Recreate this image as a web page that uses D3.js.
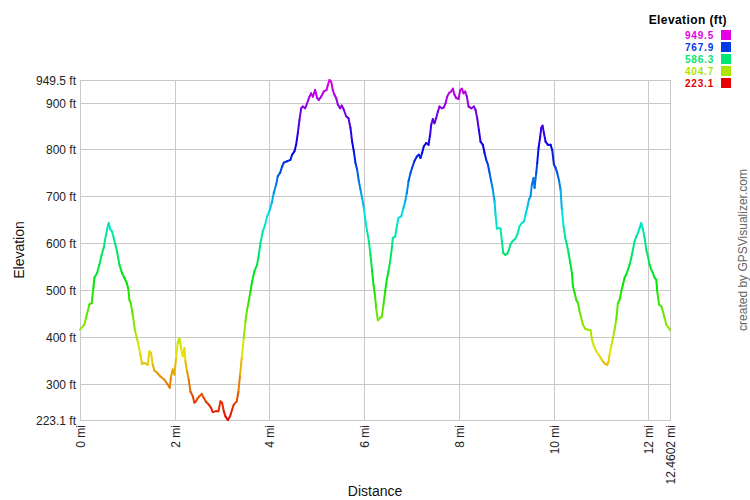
<!DOCTYPE html>
<html><head><meta charset="utf-8">
<script src="https://cdn.jsdelivr.net/npm/d3@7"></script>
<style>body{margin:0;background:#fff} text{font-family:Arial,"Liberation Sans",sans-serif}</style>
</head><body><svg id="c" width="750" height="500"></svg>
<script>
const distance = [0.0,0.092,0.127,0.198,0.247,0.282,0.304,0.36,0.409,0.458,0.50,0.529,0.571,0.606,0.642,0.677,0.712,0.747,0.782,0.832,0.888,0.937,0.987,1.022,1.043,1.078,1.113,1.163,1.219,1.275,1.311,1.36,1.43,1.466,1.501,1.536,1.571,1.628,1.698,1.783,1.853,1.895,1.923,1.959,1.994,2.029,2.064,2.1,2.135,2.17,2.205,2.226,2.261,2.297,2.332,2.381,2.416,2.452,2.487,2.522,2.571,2.614,2.663,2.719,2.768,2.804,2.874,2.924,2.966,3.001,3.036,3.071,3.121,3.17,3.212,3.247,3.311,3.346,3.381,3.416,3.459,3.494,3.529,3.564,3.6,3.635,3.684,3.74,3.776,3.811,3.86,3.909,3.952,4.001,4.05,4.092,4.142,4.177,4.226,4.269,4.304,4.374,4.445,4.48,4.529,4.564,4.6,4.635,4.67,4.705,4.755,4.797,4.846,4.881,4.917,4.966,5.008,5.043,5.093,5.149,5.206,5.234,5.269,5.304,5.339,5.374,5.41,5.445,5.494,5.529,5.572,5.621,5.67,5.712,5.747,5.783,5.818,5.853,5.889,5.924,5.959,5.994,6.03,6.065,6.1,6.135,6.17,6.198,6.227,6.255,6.29,6.339,6.375,6.41,6.445,6.48,6.515,6.55,6.586,6.607,6.656,6.691,6.726,6.783,6.832,6.867,6.902,6.938,6.98,7.015,7.065,7.114,7.156,7.191,7.226,7.262,7.311,7.36,7.395,7.417,7.452,7.487,7.522,7.558,7.593,7.642,7.684,7.72,7.755,7.79,7.839,7.874,7.909,7.945,7.994,8.029,8.065,8.1,8.135,8.17,8.205,8.262,8.318,8.353,8.388,8.424,8.459,8.508,8.543,8.578,8.614,8.649,8.684,8.719,8.755,8.776,8.804,8.839,8.882,8.91,8.938,8.98,9.023,9.058,9.093,9.142,9.191,9.234,9.283,9.332,9.374,9.41,9.445,9.48,9.515,9.543,9.579,9.6,9.635,9.656,9.684,9.72,9.741,9.769,9.797,9.832,9.882,9.938,9.973,10.008,10.044,10.079,10.114,10.149,10.177,10.213,10.248,10.283,10.318,10.353,10.389,10.41,10.445,10.48,10.516,10.551,10.586,10.621,10.67,10.727,10.783,10.811,10.853,10.903,10.952,10.994,11.044,11.093,11.135,11.163,11.184,11.22,11.255,11.29,11.325,11.36,11.396,11.431,11.466,11.501,11.537,11.572,11.607,11.642,11.677,11.713,11.748,11.783,11.818,11.853,11.889,11.924,11.959,11.994,12.029,12.065,12.1,12.135,12.17,12.191,12.227,12.276,12.311,12.346,12.381,12.431,12.4602];
const elevation = [416,427,441,470,473,505,527,537,555,576,591,608,630,644,630,626,612,598,583,555,537,527,516,502,480,470,448,413,391,363,343,345,341,370,366,341,329,324,316,309,299,292,316,331,320,356,388,398,377,359,377,348,327,309,284,274,260,263,270,274,279,270,262,256,249,240,242,242,263,260,242,231,223.1,231,245,256,263,284,320,356,398,434,459,477,498,519,541,555,576,601,626,640,658,670,687,708,726,744,751,765,773,776,779,790,797,811,836,864,889,893,889,900,914,921,914,928,911,907,914,925,928,939,949.5,946,928,918,911,897,889,895,886,872,868,847,818,797,772,758,733,715,697,676,647,626,605,576,541,512,491,462,436,441,444,470,498,523,541,562,591,612,615,637,655,658,676,690,708,733,751,762,777,786,790,783,794,808,815,811,833,854,866,857,868,882,893,889,891,900,914,921,925,931,918,911,909,928,931,921,925,914,893,889,893,886,868,843,818,811,794,779,769,751,733,715,690,662,632,633,632,605,580,576,578,587,599,606,610,619,637,644,647,662,676,694,701,726,740,719,751,772,804,829,847,852,836,818,811,811,800,769,762,751,736,715,672,637,612,598,580,559,537,509,495,480,473,455,441,427,418,416,415,395,381,370,363,356,348,343,341,348,363,381,398,416,438,473,480,498,512,527,534,544,555,569,587,605,615,623,633,644,630,612,587,573,555,544,537,527,523,498,470,466,455,441,427,420,415];
const xTicks = [0,2,4,6,8,10,12,12.4602];
const xTickLabels = ["0 mi","2 mi","4 mi","6 mi","8 mi","10 mi","12 mi","12.4602 mi"];
const yTicks = [223.1,300,400,500,600,700,800,900,949.5];
const yTickLabels = ["223.1 ft","300 ft","400 ft","500 ft","600 ft","700 ft","800 ft","900 ft","949.5 ft"];
const legendValues = [949.5,767.9,586.3,404.7,223.1];

const svg = d3.select("#c");
const eMin = 223.1, eMax = 949.5;
const x = d3.scaleLinear().domain([0, 12.4602]).range([80, 670]);
const y = d3.scaleLinear().domain([eMin, eMax]).range([420, 80]);
const color = v => d3.hsl(300 * (v - eMin) / (eMax - eMin), 1, 0.45).formatHex();
const grid = "#c8c8c8";

// horizontal gridlines
svg.append("g").selectAll("line").data(yTicks).join("line")
  .attr("x1", 80).attr("x2", 671)
  .attr("y1", d => Math.floor(y(d)) + 0.5).attr("y2", d => Math.floor(y(d)) + 0.5)
  .attr("stroke", grid).attr("stroke-width", 1);
// vertical gridlines
svg.append("g").selectAll("line").data(xTicks).join("line")
  .attr("y1", 80).attr("y2", 421)
  .attr("x1", d => Math.round(x(d)) + 0.5).attr("x2", d => Math.round(x(d)) + 0.5)
  .attr("stroke", grid).attr("stroke-width", 1);

// y tick labels
svg.append("g").selectAll("text").data(yTicks).join("text")
  .attr("x", 76).attr("y", d => Math.floor(y(d)) + 0.5).attr("dy", "0.35em")
  .attr("text-anchor", "end").attr("font-size", 12).attr("fill", "#222")
  .text((d, i) => yTickLabels[i]);
// x tick labels
svg.append("g").selectAll("text").data(xTicks).join("text")
  .attr("transform", d => `translate(${Math.round(x(d)) + 0.5},425) rotate(-90)`)
  .attr("dy", "0.35em").attr("text-anchor", "end").attr("font-size", 12).attr("fill", "#222")
  .text((d, i) => xTickLabels[i]);

// axis titles
svg.append("text").attr("transform", "translate(24,250) rotate(-90)")
  .attr("text-anchor", "middle").attr("font-size", 14).attr("fill", "#111").text("Elevation");
svg.append("text").attr("x", 375).attr("y", 496)
  .attr("text-anchor", "middle").attr("font-size", 14).attr("fill", "#111").text("Distance");
svg.append("text").attr("transform", "translate(747,250) rotate(-90)")
  .attr("text-anchor", "middle").attr("font-size", 12).attr("fill", "#666").text("created by GPSVisualizer.com");

// elevation line as colored segments
const pts = distance.map((d, i) => [d, elevation[i]]);
const segs = d3.pairs(pts);
svg.append("g").selectAll("line").data(segs).join("line")
  .attr("x1", d => x(d[0][0])).attr("y1", d => y(d[0][1]))
  .attr("x2", d => x(d[1][0])).attr("y2", d => y(d[1][1]))
  .attr("stroke", d => color((d[0][1] + d[1][1]) / 2))
  .attr("stroke-width", 2).attr("stroke-linecap", "round");

// legend
svg.append("text").attr("x", 727).attr("y", 24).attr("text-anchor", "end")
  .attr("font-size", 12).attr("font-weight", "bold").attr("letter-spacing", 0.4)
  .attr("fill", "#000").text("Elevation (ft)");
const lg = svg.append("g").selectAll("g").data(legendValues).join("g")
  .attr("transform", (d, i) => `translate(0,${30 + i * 12})`);
lg.append("rect").attr("x", 721).attr("y", 0).attr("width", 10).attr("height", 10)
  .attr("fill", d => color(d));
lg.append("text").attr("x", 714).attr("y", 9).attr("text-anchor", "end")
  .attr("font-size", 10).attr("font-weight", "bold").attr("letter-spacing", 0.8)
  .attr("fill", d => color(d))
  .text(d => d.toFixed(1));
</script></body></html>
